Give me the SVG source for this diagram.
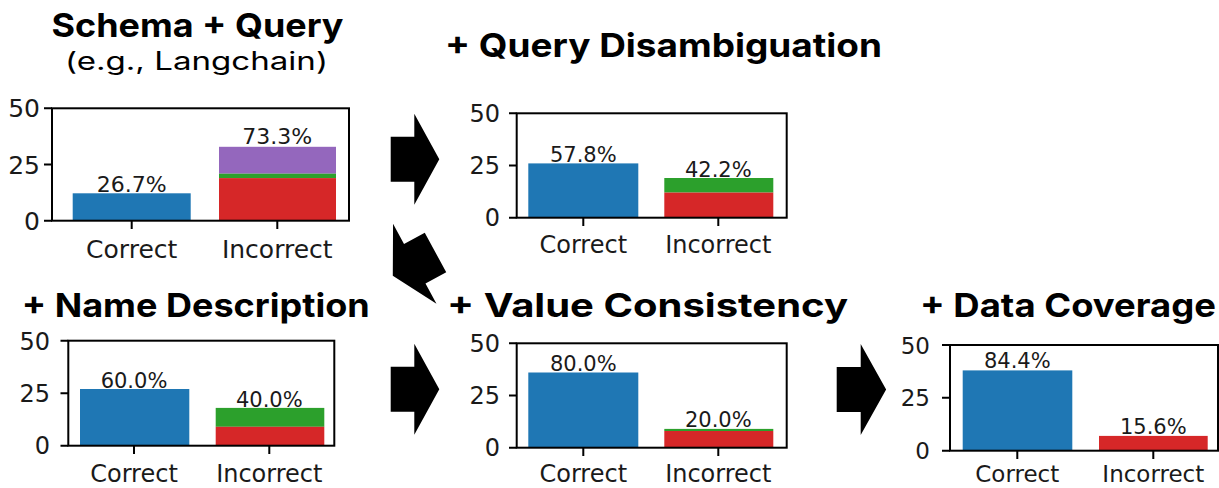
<svg xmlns="http://www.w3.org/2000/svg" width="1219" height="488" viewBox="0 0 1219 488">
<style>
.title{font-family:Inter,"DejaVu Sans",sans-serif;font-weight:700;font-size:33px;fill:#000}
.sub{font-family:Inter,"DejaVu Sans",sans-serif;font-weight:400;font-size:25px;fill:#000}
.tick{font-family:"DejaVu Sans",sans-serif;font-size:24px;fill:#1a1a1a}
.pct{font-family:"DejaVu Sans",sans-serif;font-size:21px;fill:#1a1a1a;text-anchor:middle}
.xl{text-anchor:middle}
.yl{text-anchor:end}
.frame{fill:none;stroke:#000;stroke-width:2}
.tk{stroke:#000;stroke-width:2}
.blue{fill:#1f77b4}
.red{fill:#d62728}
.green{fill:#2ca02c}
.purple{fill:#9467bd}
.arrow{fill:#000}
</style>
<defs>
<path id="blk" d="M0,-22.5 L23.6,-22.5 L23.6,-45.5 L48.6,0 L23.6,45.5 L23.6,22.5 L0,22.5 Z"/>
</defs>
<rect width="1219" height="488" fill="#fff"/>

<g id="schema-query">
<text class="title" x="197.5" y="37" text-anchor="middle" textLength="292" lengthAdjust="spacingAndGlyphs">Schema + Query</text>
<text class="sub" x="196.5" y="70" text-anchor="middle" textLength="263" lengthAdjust="spacingAndGlyphs">(e.g., Langchain)</text>
<rect class="blue" x="72.7" y="193.3" width="118" height="27.4"/>
<rect class="purple" x="219" y="146.8" width="117" height="26.9"/>
<rect class="green" x="219" y="173.7" width="117" height="4.4"/>
<rect class="red" x="219" y="178.1" width="117" height="42.6"/>
<rect class="frame" x="52" y="108.3" width="297" height="112.4"/>
<path class="tk" d="M44,108.3H52M44,164.5H52M44,220.7H52M131.7,220.7V229M277.3,220.7V229"/>
<g class="tick" style="font-size:25px">
<text class="yl" x="40" y="117.3">50</text>
<text class="yl" x="40" y="173.5">25</text>
<text class="yl" x="40" y="229.7">0</text>
<text class="xl" x="131.7" y="258.3">Correct</text>
<text class="xl" x="277.3" y="258.3">Incorrect</text>
</g>
<text class="pct" style="font-size:22px" x="131.7" y="191.5">26.7%</text>
<text class="pct" style="font-size:22px" x="277.3" y="144.3">73.3%</text>
</g>

<g id="query-disambiguation">
<text class="title" x="445" y="57" textLength="437" lengthAdjust="spacingAndGlyphs">+ Query Disambiguation</text>
<rect class="blue" x="528.3" y="163.4" width="110" height="54.3"/>
<rect class="green" x="664.3" y="178" width="109" height="14.6"/>
<rect class="red" x="664.3" y="192.6" width="109" height="25.1"/>
<rect class="frame" x="516.7" y="113.3" width="270" height="104.4"/>
<path class="tk" d="M509,113.3H516.7M509,165.5H516.7M509,217.7H516.7M583.3,217.7V226M718.3,217.7V226"/>
<g class="tick">
<text class="yl" x="500" y="122.3">50</text>
<text class="yl" x="500" y="174.2">25</text>
<text class="yl" x="500" y="226.4">0</text>
<text class="xl" x="583.3" y="253.3">Correct</text>
<text class="xl" x="718.3" y="253.3">Incorrect</text>
</g>
<text class="pct" x="583.3" y="161.7">57.8%</text>
<text class="pct" x="718.3" y="177.3">42.2%</text>
</g>

<g id="name-description">
<text class="title" x="21.7" y="317" textLength="348" lengthAdjust="spacingAndGlyphs">+ Name Description</text>
<rect class="blue" x="80" y="389" width="109.3" height="56.7"/>
<rect class="green" x="215.7" y="407.9" width="108.6" height="18.9"/>
<rect class="red" x="215.7" y="426.8" width="108.6" height="18.9"/>
<rect class="frame" x="68.3" y="340.7" width="266" height="105"/>
<path class="tk" d="M60.5,340.7H68.3M60.5,393.2H68.3M60.5,445.7H68.3M134,445.7V454M269.3,445.7V454"/>
<g class="tick">
<text class="yl" x="50" y="349.5">50</text>
<text class="yl" x="50" y="402">25</text>
<text class="yl" x="50" y="454.4">0</text>
<text class="xl" x="134" y="482">Correct</text>
<text class="xl" x="269.3" y="482">Incorrect</text>
</g>
<text class="pct" x="134" y="387.7">60.0%</text>
<text class="pct" x="269.3" y="406.7">40.0%</text>
</g>

<g id="value-consistency">
<text class="title" x="447" y="317" textLength="401" lengthAdjust="spacingAndGlyphs">+ Value Consistency</text>
<rect class="blue" x="528.3" y="372.5" width="110" height="75.2"/>
<rect class="green" x="664.3" y="428.9" width="109" height="2.1"/>
<rect class="red" x="664.3" y="431" width="109" height="16.7"/>
<rect class="frame" x="516.7" y="343.3" width="270" height="104.4"/>
<path class="tk" d="M509,343.3H516.7M509,395.5H516.7M509,447.7H516.7M583.3,447.7V456M718.3,447.7V456"/>
<g class="tick">
<text class="yl" x="500" y="352.3">50</text>
<text class="yl" x="500" y="404.4">25</text>
<text class="yl" x="500" y="456.4">0</text>
<text class="xl" x="583.3" y="482">Correct</text>
<text class="xl" x="718.3" y="482">Incorrect</text>
</g>
<text class="pct" x="583.3" y="371">80.0%</text>
<text class="pct" x="718.3" y="427.3">20.0%</text>
</g>

<g id="data-coverage">
<text class="title" x="920" y="317" textLength="296" lengthAdjust="spacingAndGlyphs">+ Data Coverage</text>
<rect class="blue" x="962.7" y="370.4" width="109.6" height="80.3"/>
<rect class="red" x="1099" y="435.9" width="108.7" height="14.8"/>
<rect class="frame" x="950" y="345" width="268" height="105.7"/>
<path class="tk" d="M942,345H950M942,397.85H950M942,450.7H950M1017.3,450.7V459M1153.3,450.7V459"/>
<g class="tick" style="font-size:23px">
<text class="yl" x="930" y="353.5">50</text>
<text class="yl" x="930" y="406.3">25</text>
<text class="yl" x="930" y="459">0</text>
<text class="xl" x="1017.3" y="482">Correct</text>
<text class="xl" x="1153.3" y="482">Incorrect</text>
</g>
<text class="pct" x="1017.3" y="368.3">84.4%</text>
<text class="pct" x="1153.3" y="434.3">15.6%</text>
</g>

<g id="connectors" class="arrow">
<use href="#blk" transform="translate(390.7,159.3)"/>
<use href="#blk" transform="translate(435.5,252.5) rotate(151.5)"/>
<use href="#blk" transform="translate(390.7,389.2)"/>
<use href="#blk" transform="translate(836.7,389.5) scale(1.017,1)"/>
</g>
</svg>
